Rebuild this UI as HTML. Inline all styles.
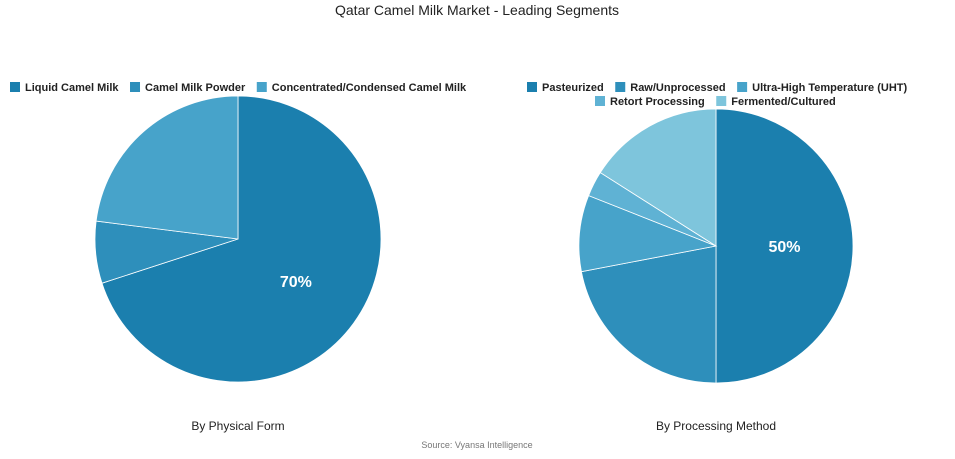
<!DOCTYPE html>
<html><head><meta charset="utf-8"><style>
body{margin:0;width:955px;height:454px;background:#fff;font-family:"Liberation Sans",sans-serif;overflow:hidden}
svg text{font-family:"Liberation Sans",sans-serif}
</style></head><body>
<svg id="c" width="955" height="454">
<text x="477" y="15" text-anchor="middle" font-size="14" fill="#222">Qatar Camel Milk Market - Leading Segments</text>
<text x="238" y="430" text-anchor="middle" font-size="12" fill="#222">By Physical Form</text>
<text x="716" y="430" text-anchor="middle" font-size="12" fill="#222">By Processing Method</text>
<text x="477" y="448" text-anchor="middle" font-size="9" fill="#777">Source: Vyansa Intelligence</text>
</svg>
<script>
const leftLabels=["Liquid Camel Milk","Camel Milk Powder","Concentrated/Condensed Camel Milk"];
const leftValues=[70,7,23];
const leftColors=["#1b7fae","#2e8fbb","#47a3ca"];
const rightLabels=["Pasteurized","Raw/Unprocessed","Ultra-High Temperature (UHT)","Retort Processing","Fermented/Cultured"];
const rightValues=[50,22,9,3,16];
const rightColors=["#1b7fae","#2e8fbb","#47a3ca","#5fb2d4","#7ec5dc"];
const NS="http://www.w3.org/2000/svg";
const svg=document.getElementById('c');
function mk(t,a){const e=document.createElementNS(NS,t);for(const k in a)e.setAttribute(k,a[k]);svg.appendChild(e);return e;}
function pie(cx,cy,r,vals,cols,prefix){
 const tot=vals.reduce((a,b)=>a+b,0);let a0=0;
 vals.forEach((v,i)=>{
  const a1=a0+v/tot*2*Math.PI;
  const x0=cx+r*Math.sin(a0),y0=cy-r*Math.cos(a0),x1=cx+r*Math.sin(a1),y1=cy-r*Math.cos(a1);
  const p=mk('path',{d:`M${cx},${cy}L${x0},${y0}A${r},${r} 0 ${a1-a0>Math.PI?1:0} 1 ${x1},${y1}Z`,fill:cols[i],stroke:'#fff','stroke-width':0.8});
  
  
  if(i===0){const m=(a0+a1)/2;const t=mk('text',{x:cx+r*0.5*Math.sin(m),y:cy-r*0.5*Math.cos(m)+6,'text-anchor':'middle','font-size':16,'font-weight':'bold',fill:'#fff'});t.textContent=v+'%';
   
   }
  a0=a1;});
}
pie(238,239,143,leftValues,leftColors,'left');
pie(716,246,137,rightValues,rightColors,'right');
function legend(rows,labels,cols,prefix){
 let k=0;rows.forEach(row=>{let x=row.x;row.items.forEach(()=>{
  const r=mk('rect',{x:x,y:row.y-9,width:10,height:10,fill:cols[k]});
  
  
  const t=mk('text',{x:x+15,y:row.y,'font-size':11,'font-weight':'bold',fill:'#222'});t.textContent=labels[k];
  
  
  x+=15+t.getComputedTextLength()+11.5;k++;});});
}
legend([{x:10,y:91,items:[0,1,2]}],leftLabels,leftColors,'left');
legend([{x:527,y:91,items:[0,1,2]},{x:595,y:105,items:[3,4]}],rightLabels,rightColors,'right');
</script>
</body></html>
